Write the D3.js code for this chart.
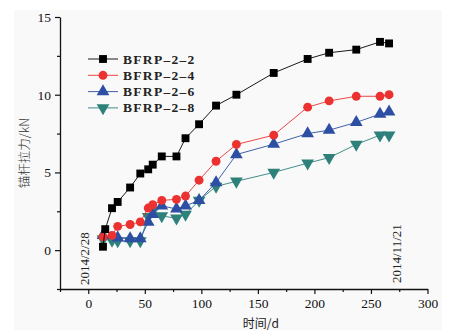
<!DOCTYPE html>
<html>
<head>
<meta charset="utf-8">
<script src="https://cdn.jsdelivr.net/npm/d3@7"></script>
<style>
  html, body { margin: 0; padding: 0; background: #ffffff; }
  svg { display: block; }
  .tick text { font-family: "Liberation Serif", "DejaVu Serif", serif; font-size: 13.5px; fill: #111; }
</style>
</head>
<body>
<svg id="chart" width="452" height="335"></svg>
<script>
// Anchor tension over time for four BFRP anchors
const seriesNames = ["BFRP\u20132\u20132", "BFRP\u20132\u20134", "BFRP\u20132\u20136", "BFRP\u20132\u20138"];

const days22 = [13, 15, 21, 26, 37, 46, 53, 57, 65, 78, 86, 98, 113, 131, 164, 194, 213, 237, 258, 266];
const vals22 = [0.22, 1.35, 2.7, 3.1, 4.03, 4.93, 5.2, 5.5, 6.03, 6.03, 7.2, 8.1, 9.3, 10.0, 11.4, 12.3, 12.7, 12.9, 13.4, 13.3];

const days24 = [13, 21, 26, 37, 46, 53, 57, 65, 78, 86, 98, 113, 131, 164, 194, 213, 237, 258, 266];
const vals24 = [0.85, 0.95, 1.53, 1.65, 1.82, 2.71, 2.92, 3.2, 3.27, 3.48, 4.5, 5.72, 6.8, 7.4, 9.2, 9.6, 9.9, 9.9, 10.0];

const days26 = [13, 26, 37, 46, 53, 57, 65, 78, 86, 98, 113, 131, 164, 194, 213, 237, 258, 266];
const vals26 = [0.95, 0.8, 0.75, 0.75, 1.8, 2.3, 2.85, 2.65, 2.85, 3.2, 4.35, 6.15, 6.82, 7.5, 7.72, 8.22, 8.75, 8.9];

const days28 = [13, 21, 26, 37, 46, 53, 57, 65, 78, 86, 98, 113, 131, 164, 194, 213, 237, 258, 266];
const vals28 = [0.7, 0.62, 0.6, 0.6, 0.6, 2.15, 2.55, 2.2, 2.05, 2.3, 3.2, 4.1, 4.43, 5.0, 5.6, 5.95, 6.8, 7.4, 7.4];

const xTicks = [0, 50, 100, 150, 200, 250, 300];
const yTicks = [0, 5, 10, 15];
const startDate = "2014/2/28";
const endDate = "2014/11/21";
const endDay = 266;

const colors = ["#000000", "#ec3131", "#2c4fa3", "#2e807b"];
const symbols = [d3.symbolSquare, d3.symbolCircle, d3.symbolTriangle, "down"];

const svg = d3.select("#chart");
const W = 452, H = 335;
const margin = { left: 60, right: 24.5, top: 17, bottom: 46 };

// light panel behind the chart
svg.append("rect").attr("x", 14).attr("y", 10).attr("width", 428).attr("height", 320).attr("fill", "#f9f9f9");

const x = d3.scaleLinear().domain([-25, 300]).range([margin.left, W - margin.right]);
const y = d3.scaleLinear().domain([-2.5, 15]).range([H - margin.bottom, margin.top]);

// axes: major ticks with labels, minor ticks in between
svg.append("g").attr("transform", `translate(0,${H - margin.bottom})`)
  .call(d3.axisBottom(x).tickValues(xTicks).tickSize(5).tickSizeOuter(0).tickPadding(4).tickFormat(d3.format("d")));
svg.append("g").attr("transform", `translate(0,${H - margin.bottom})`)
  .call(d3.axisBottom(x).tickValues(d3.range(-25, 300, 50)).tickSize(3).tickSizeOuter(0).tickFormat(""))
  .select(".domain").remove();

svg.append("g").attr("transform", `translate(${margin.left},0)`)
  .call(d3.axisLeft(y).tickValues(yTicks).tickSize(5).tickSizeOuter(0).tickPadding(4).tickFormat(d3.format("d")));
svg.append("g").attr("transform", `translate(${margin.left},0)`)
  .call(d3.axisLeft(y).tickValues(d3.range(-2.5, 15, 5)).tickSize(3).tickSizeOuter(0).tickFormat(""))
  .select(".domain").remove();

svg.selectAll(".domain").attr("stroke", "#111").attr("stroke-width", 1.3);
svg.selectAll(".tick line").attr("stroke", "#111").attr("stroke-width", 1.2);

// axis titles
svg.append("text")
  .attr("x", x(150) + 3).attr("y", 328)
  .attr("text-anchor", "middle")
  .attr("font-family", "'Noto Sans CJK SC', 'Liberation Serif', serif")
  .attr("font-size", 12).attr("fill", "#222")
  .text("时间/d");
svg.append("text")
  .attr("transform", `translate(29,${(y(15) + y(-2.5)) / 2}) rotate(-90)`)
  .attr("text-anchor", "middle")
  .attr("font-family", "'Noto Sans CJK SC', 'Liberation Serif', serif")
  .attr("font-size", 12.5).attr("font-weight", 300).attr("fill", "#333")
  .text("锚杆拉力/kN");

// date annotations at the first and last day
svg.append("text")
  .attr("transform", `translate(${x(-2.5) + 4},${y(-2.5) - 4}) rotate(-90)`)
  .attr("font-family", "'Liberation Serif', serif").attr("font-size", 13).attr("fill", "#222")
  .text(startDate);
svg.append("text")
  .attr("transform", `translate(${x(endDay + 6) + 5},${y(-2.5) - 6}) rotate(-90)`)
  .attr("font-family", "'Liberation Serif', serif").attr("font-size", 13).attr("fill", "#222")
  .text(endDate);

function symPath(sym, size) {
  return d3.symbol().type(sym === "down" ? d3.symbolTriangle : sym).size(size)();
}
const symSizes = [62, 62, 70, 70];

const allSeries = [
  days22.map((d, i) => [d, vals22[i]]),
  days24.map((d, i) => [d, vals24[i]]),
  days26.map((d, i) => [d, vals26[i]]),
  days28.map((d, i) => [d, vals28[i]])
];

const line = d3.line().x(d => x(d[0])).y(d => y(d[1]));

// draw in reverse so the black series sits on top
for (let s = allSeries.length - 1; s >= 0; s--) {
  const g = svg.append("g");
  g.append("path").datum(allSeries[s])
    .attr("fill", "none").attr("stroke", colors[s]).attr("stroke-width", 0.9)
    .attr("d", line);
  g.selectAll("path.m").data(allSeries[s]).enter().append("path")
    .attr("class", "m")
    .attr("d", symPath(symbols[s], symSizes[s]))
    .attr("transform", d => `translate(${x(d[0])},${y(d[1])})` + (symbols[s] === "down" ? " rotate(180)" : ""))
    .attr("fill", colors[s]);
}

// legend
const legend = svg.append("g");
seriesNames.forEach((name, i) => {
  const ly = 59 + i * 16.3;
  legend.append("line").attr("x1", 88).attr("x2", 118).attr("y1", ly).attr("y2", ly)
    .attr("stroke", colors[i]).attr("stroke-width", 0.9);
  legend.append("path").attr("d", symPath(symbols[i], symSizes[i]))
    .attr("transform", `translate(103,${ly})` + (symbols[i] === "down" ? " rotate(180)" : ""))
    .attr("fill", colors[i]);
  legend.append("text").attr("x", 123).attr("y", ly + 4.5)
    .attr("font-family", "'Liberation Serif', serif").attr("font-size", 13.5).attr("font-weight", "bold")
    .attr("letter-spacing", 1.3)
    .attr("fill", "#222").text(name);
});
</script>
</body>
</html>
